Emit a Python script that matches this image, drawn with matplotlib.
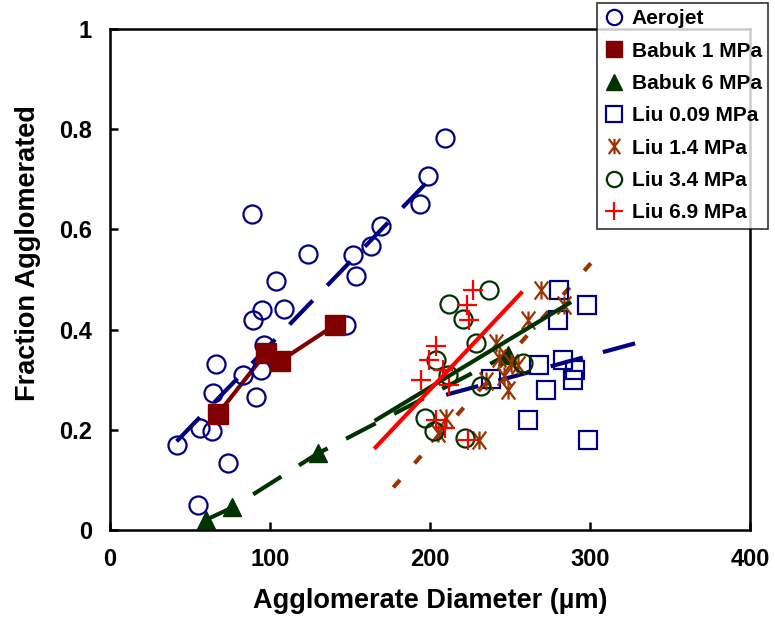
import numpy as np
import matplotlib
matplotlib.use("Agg")
import matplotlib.pyplot as plt
from matplotlib.path import Path
from matplotlib.lines import Line2D

plt.rcParams['font.family'] = ['Liberation Sans', 'DejaVu Sans']
plt.rcParams['font.weight'] = 'bold'

# data
aerojet_x = [41.6, 56.1, 63.4, 55.1, 73.8, 64.4, 66.1, 83.2, 90.9, 94.6, 96.1, 89.4, 95.0,
             89.0, 104.0, 108.5, 123.7, 147.7, 153.5, 151.8, 163.2, 169.5, 193.4, 198.6, 209.0]
aerojet_y = [0.169, 0.203, 0.197, 0.05, 0.133, 0.273, 0.331, 0.31, 0.265, 0.32, 0.37, 0.42, 0.44,
             0.631, 0.497, 0.441, 0.551, 0.409, 0.507, 0.55, 0.567, 0.607, 0.651, 0.707, 0.782]
aerojet_fit_x = [41.6, 203.7]
aerojet_fit_y = [0.177, 0.713]

babuk1_x = [67.2, 97.3, 106.1, 140.4]
babuk1_y = [0.231, 0.353, 0.337, 0.409]

babuk6_x = [59.7, 76.5, 129.9, 248.5]
babuk6_y = [0.02, 0.045, 0.153, 0.35]

liu009_x = [280.7, 279.7, 297.8, 268.2, 282.8, 290.7, 289.5, 272.4, 261.0, 298.4, 238.1]
liu009_y = [0.48, 0.42, 0.45, 0.33, 0.34, 0.32, 0.30, 0.28, 0.22, 0.18, 0.301]
liu009_fit_x = [210.0, 328.5]
liu009_fit_y = [0.27, 0.373]

liu14_x = [269.3, 283.8, 261.0, 241.2, 243.3, 250.6, 254.7, 246.4, 248.5, 234.9, 210.0, 204.8, 230.8]
liu14_y = [0.48, 0.45, 0.42, 0.373, 0.343, 0.333, 0.33, 0.307, 0.28, 0.297, 0.223, 0.193, 0.18]
liu14_fit_x = [177.0, 308.0]
liu14_fit_y = [0.085, 0.56]

liu34_x = [237.1, 211.7, 220.8, 228.7, 203.8, 257.8, 231.9, 211.0, 196.5, 202.7, 221.5]
liu34_y = [0.48, 0.451, 0.421, 0.373, 0.34, 0.333, 0.287, 0.31, 0.223, 0.197, 0.183]
liu34_fit_x = [166.4, 287.0]
liu34_fit_y = [0.22, 0.453]

liu69_x = [226.6, 222.9, 224.2, 203.8, 199.6, 194.4, 207.9, 212.1, 203.8, 209.0, 223.5]
liu69_y = [0.48, 0.45, 0.42, 0.367, 0.34, 0.30, 0.32, 0.29, 0.22, 0.203, 0.18]
liu69_fit_x = [165.9, 256.8]
liu69_fit_y = [0.165, 0.473]

navy = '#000080'
dkred = '#800000'
dkgreen = '#003300'
brown = '#993300'
red = '#ff0000'

# excel-style asterisk: X plus vertical bar
ast = Path([(0, -1), (0, 1), (-0.75, -1), (0.75, 1), (-0.75, 1), (0.75, -1)],
           [Path.MOVETO, Path.LINETO, Path.MOVETO, Path.LINETO, Path.MOVETO, Path.LINETO])

fig = plt.figure(figsize=(7.75, 6.32), dpi=100)
ax = fig.add_axes([0.142, 0.1614, 0.826, 0.7925])

lw = 3.0
dash = (0, (8, 5))
ax.plot(aerojet_fit_x, aerojet_fit_y, color=navy, lw=lw, ls=dash, zorder=2)
ax.plot(babuk1_x, babuk1_y, color=dkred, lw=lw, zorder=2)
ax.plot(babuk6_x, babuk6_y, color=dkgreen, lw=lw, ls=dash, zorder=2)
ax.plot(liu009_fit_x, liu009_fit_y, color=navy, lw=lw, ls=dash, zorder=2)
ax.plot(liu14_fit_x, liu14_fit_y, color=brown, lw=lw, ls=(0, (2.4, 5.3)), zorder=2)
ax.plot(liu34_fit_x, liu34_fit_y, color=dkgreen, lw=lw, zorder=4)
ax.plot(liu69_fit_x, liu69_fit_y, color=red, lw=lw, zorder=4)

mew = 1.6
ax.plot(aerojet_x, aerojet_y, 'o', ms=13, mfc='none', mec=navy, mew=mew, zorder=3)
ax.plot(babuk1_x, babuk1_y, 's', ms=14, color=dkred, zorder=3)
ax.plot(babuk6_x, babuk6_y, '^', ms=13, color=dkgreen, zorder=3)
ax.plot(liu009_x, liu009_y, 's', ms=13.5, mfc='none', mec=navy, mew=mew, zorder=3)
ax.plot(liu14_x, liu14_y, ls='none', marker=ast, ms=13, mec=brown, mew=mew, zorder=3)
ax.plot(liu34_x, liu34_y, 'o', ms=13, mfc='none', mec=dkgreen, mew=mew, zorder=3)
ax.plot(liu69_x, liu69_y, '+', ms=14, mec=red, mew=mew, zorder=3)

ax.set_xlim(0, 400)
ax.set_ylim(0, 1)
ax.set_xticks([0, 100, 200, 300, 400])
ax.set_yticks([0, 0.2, 0.4, 0.6, 0.8, 1])
ax.set_yticklabels(['0', '0.2', '0.4', '0.6', '0.8', '1'])
ax.tick_params(direction='in', length=6, width=1.8, labelsize=17, pad=13)
for s in ax.spines.values():
    s.set_linewidth(1.8)
ax.set_xlabel('Agglomerate Diameter (\u00b5m)', fontsize=19.5, fontweight='bold', labelpad=12)
ax.set_ylabel('Fraction Agglomerated', fontsize=19.5, fontweight='bold')
ax.yaxis.set_label_coords(-0.108, 0.553)

handles = [
    Line2D([], [], ls='none', marker='o', ms=11, mfc='none', mec=navy, mew=mew),
    Line2D([], [], ls='none', marker='s', ms=12, color=dkred),
    Line2D([], [], ls='none', marker='^', ms=12, color=dkgreen),
    Line2D([], [], ls='none', marker='s', ms=11, mfc='none', mec=navy, mew=mew),
    Line2D([], [], ls='none', marker=ast, ms=11, mec=brown, mew=mew),
    Line2D([], [], ls='none', marker='o', ms=11, mfc='none', mec=dkgreen, mew=mew),
    Line2D([], [], ls='none', marker='+', ms=13, mec=red, mew=mew),
]
labels = ['Aerojet', 'Babuk 1 MPa', 'Babuk 6 MPa', 'Liu 0.09 MPa', 'Liu 1.4 MPa',
          'Liu 3.4 MPa', 'Liu 6.9 MPa']
leg = fig.legend(handles, labels, loc='upper right', bbox_to_anchor=(0.991, 0.995),
                 prop={'family': ['Liberation Sans', 'DejaVu Sans'], 'weight': 'bold', 'size': 15},
                 frameon=True, fancybox=False, edgecolor='black',
                 handlelength=1.0, handletextpad=0.35, labelspacing=0.64,
                 borderpad=0.3, borderaxespad=0)
leg.get_frame().set_linewidth(1.2)

fig.savefig('out.png', dpi=100)
